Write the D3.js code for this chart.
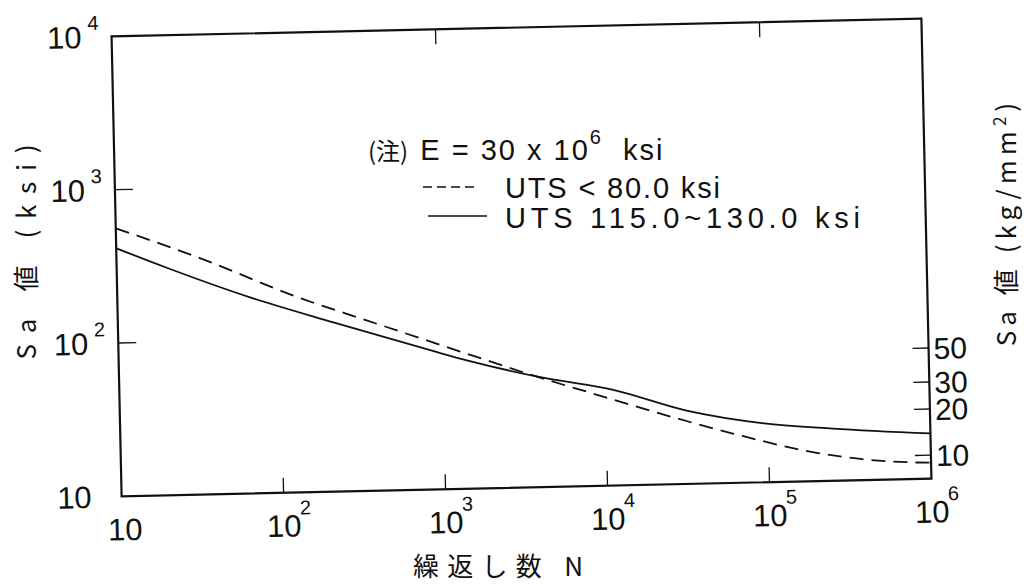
<!DOCTYPE html>
<html lang="ja">
<head>
<meta charset="utf-8">
<title>Sa - N design fatigue curve</title>
<script src="https://cdn.jsdelivr.net/npm/d3@7"></script>
<style>
  body{ margin:0; background:#fff; }
  svg text{ font-family:"Liberation Sans Narrow","Liberation Sans",sans-serif; fill:#111; }
  .cjk{ font-family:"Noto Sans CJK JP","Liberation Sans",sans-serif; }
</style>
</head>
<body>
<div id="chart"></div>
<script>
// cycles N and stress amplitude Sa (ksi)
var dashN = [10, 33, 136, 347, 1410, 4370, 7940, 18600, 60300, 197000, 398000, 813000, 1000000]
var dashS = [560, 347, 184, 129, 76, 50, 40.8, 30.5, 21, 15.3, 13.6, 12.8, 12.7]
var solidN = [10, 20, 66, 214, 871, 1410, 4370, 11000, 31500, 98000, 250000, 1000000]
var solidS = [415, 307, 190, 127, 80, 68.7, 51, 42.3, 30.1, 24.1, 21.9, 19.7]

var xTicks = [10, 100, 1000, 10000, 100000, 1000000]
var xExp = ["", "2", "3", "4", "5", "6"]
var yTicks = [10, 100, 1000, 10000]
var yExp = ["", "2", "3", "4"]
var kgTicks = [10, 20, 30, 50]
var ksiToKg = 0.70307

var W = 1027, H = 585
var w = 810, h = 460

var svg = d3.select("#chart").append("svg").attr("width", W).attr("height", H)

// the scan is slightly tilted, so the plot box is turned a little
var g = svg.append("g")
  .attr("transform", "translate(521.5,257.5) rotate(-1.25) translate(" + (-w/2) + "," + (-h/2) + ")")

var x = d3.scaleLog().domain([10, 1e6]).range([0, w])
var y = d3.scaleLog().domain([10, 1e4]).range([h, 0])
var yKg = d3.scaleLog().domain([10*ksiToKg, 1e4*ksiToKg]).range([h, 0])

g.append("rect").attr("x", 0).attr("y", 0).attr("width", w).attr("height", h)
  .attr("fill", "none").attr("stroke", "#111").attr("stroke-width", 2.2)

// ticks inside the box
var inner = xTicks.slice(1, -1)
g.selectAll(".xtick").data(inner).enter().append("line")
  .attr("x1", function(d){ return x(d) }).attr("x2", function(d){ return x(d) })
  .attr("y1", h).attr("y2", h - 15)
  .attr("stroke", "#111").attr("stroke-width", 1.3)
g.selectAll(".ttick").data([1000, 100000]).enter().append("line")
  .attr("x1", function(d){ return x(d) }).attr("x2", function(d){ return x(d) })
  .attr("y1", 0).attr("y2", 15)
  .attr("stroke", "#111").attr("stroke-width", 1.3)
g.selectAll(".ytick").data([100, 1000]).enter().append("line")
  .attr("x1", 0).attr("x2", 18)
  .attr("y1", function(d){ return y(d) }).attr("y2", function(d){ return y(d) })
  .attr("stroke", "#111").attr("stroke-width", 1.3)
g.selectAll(".kgtick").data(kgTicks).enter().append("line")
  .attr("x1", w).attr("x2", w - 16)
  .attr("y1", function(d){ return yKg(d) }).attr("y2", function(d){ return yKg(d) })
  .attr("stroke", "#111").attr("stroke-width", 1.3)

// tick labels: 10 with a raised exponent
var xl = g.selectAll(".xl").data(xTicks).enter().append("g")
  .attr("transform", function(d){ return "translate(" + x(d) + "," + (h + 44) + ")" })
xl.append("text").attr("text-anchor", "middle").attr("font-size", 31).text("10")
  .attr("x", function(d, i){ return i == 0 ? 3 : 0 })
xl.append("text").attr("x", 16).attr("y", -22).attr("font-size", 20)
  .text(function(d, i){ return xExp[i] })

var yl = g.selectAll(".yl").data(yTicks).enter().append("g")
  .attr("transform", function(d){ return "translate(0," + y(d) + ")" })
yl.append("text").attr("x", -30).attr("y", 11).attr("text-anchor", "end").attr("font-size", 31).text("10")
yl.append("text").attr("x", -24).attr("y", -7).attr("font-size", 20)
  .text(function(d, i){ return yExp[i] })

g.selectAll(".kl").data(kgTicks).enter().append("text")
  .attr("x", w + 5).attr("y", function(d){ return yKg(d) + 11 })
  .attr("font-size", 30).text(function(d){ return d })

// curves
var line = d3.line()
  .x(function(d){ return x(d[0]) }).y(function(d){ return y(d[1]) })
  .curve(d3.curveMonotoneX)

g.append("path").datum(d3.zip(dashN, dashS)).attr("d", line)
  .attr("fill", "none").attr("stroke", "#111").attr("stroke-width", 1.8)
  .attr("stroke-dasharray", "14,8")
g.append("path").datum(d3.zip(solidN, solidS)).attr("d", line)
  .attr("fill", "none").attr("stroke", "#111").attr("stroke-width", 1.8)

// note and legend
var note = svg.append("text").attr("x", 368).attr("y", 160).attr("font-size", 29)
note.append("tspan").attr("class", "cjk").attr("font-size", 24).text("(注)")
note.append("tspan").attr("dx", 12).text("E = 30 x 10").attr("letter-spacing", 2)
note.append("tspan").attr("dy", -16).attr("font-size", 20).text("6")
note.append("tspan").attr("dy", 16).attr("dx", 22).text("ksi").attr("letter-spacing", 2)

svg.append("line").attr("x1", 423).attr("x2", 477).attr("y1", 187).attr("y2", 187)
  .attr("stroke", "#111").attr("stroke-width", 1.6).attr("stroke-dasharray", "9,5")
svg.append("text").attr("x", 505).attr("y", 198).attr("font-size", 29)
  .attr("textLength", 215).attr("lengthAdjust", "spacing").text("UTS < 80.0 ksi")

svg.append("line").attr("x1", 428).attr("x2", 487).attr("y1", 216).attr("y2", 216)
  .attr("stroke", "#111").attr("stroke-width", 1.6)
svg.append("text").attr("x", 505).attr("y", 228).attr("font-size", 29)
  .attr("textLength", 355).attr("lengthAdjust", "spacing").text("UTS  115.0~130.0  ksi")

// axis titles
svg.append("text").attr("class", "cjk").attr("transform", "translate(36,252) rotate(-90)")
  .attr("text-anchor", "middle").attr("font-size", 26)
  .attr("textLength", 215).attr("lengthAdjust", "spacing").text("Sa 値 (ksi)")

var rt = svg.append("text").attr("class", "cjk").attr("transform", "translate(1016,222) rotate(-90)")
  .attr("text-anchor", "middle").attr("font-size", 26)
  .attr("letter-spacing", 5)
rt.append("tspan").text("Sa 値    (kg/mm")
rt.append("tspan").attr("dy", -10).attr("font-size", 17).text("2")
rt.append("tspan").attr("dy", 10).text(")")

svg.append("text").attr("class", "cjk").attr("x", 498).attr("y", 576)
  .attr("text-anchor", "middle").attr("font-size", 26)
  .attr("textLength", 170).attr("lengthAdjust", "spacing").text("繰返し数 N")
</script>
</body>
</html>
